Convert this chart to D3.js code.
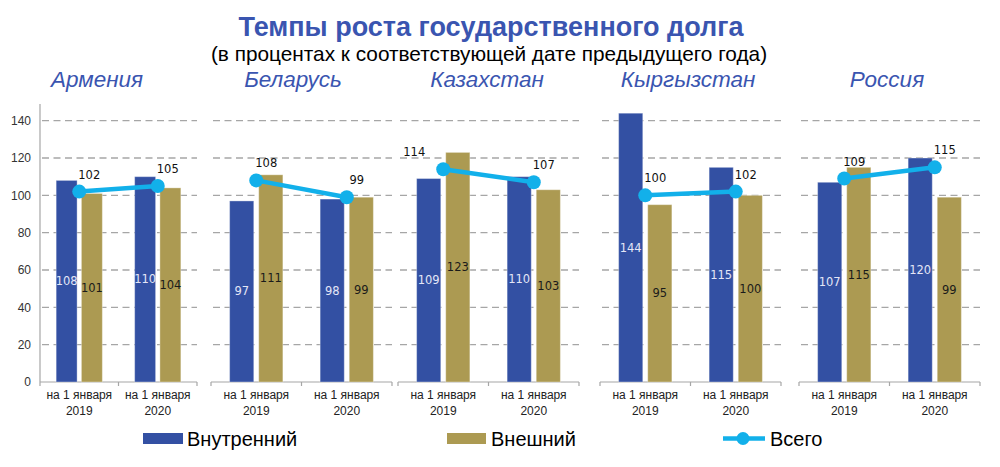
<!DOCTYPE html>
<html>
<head>
<meta charset="utf-8">
<script src="https://cdn.jsdelivr.net/npm/d3@7"></script>
<style>
  html, body { margin: 0; padding: 0; background: #fff; }
  svg { display: block; }
</style>
</head>
<body>
<svg id="chart" width="1000" height="467"></svg>
<script>
// ---------- DATA ----------
const countries = ["Армения", "Беларусь", "Казахстан", "Кыргызстан", "Россия"];
const dateLines = [["на 1 января", "2019"], ["на 1 января", "2020"]];
const dates = ["2019", "2020"];
const domestic = [[108, 110], [97, 98], [109, 110], [144, 115], [107, 120]];
const external = [[101, 104], [111, 99], [123, 103], [95, 100], [115, 99]];
const total    = [[102, 105], [108, 99], [114, 107], [100, 102], [109, 115]];
const yTicks = [0, 20, 40, 60, 80, 100, 120, 140];
const seriesNames = ["Внутренний", "Внешний", "Всего"];

// ---------- LAYOUT / STYLE ----------
const panels = [
  { left: 40,  right: 197, titleX: 97 },
  { left: 211, right: 392, titleX: 293 },
  { left: 398, right: 579, titleX: 487 },
  { left: 600, right: 781, titleX: 688 },
  { left: 799, right: 980, titleX: 887 }
];
const C = { blue: "#3350a3", gold: "#ac9a52", line: "#12b0ea", grid: "#a6a6a6", axis: "#a6a6a6", title: "#3a55b0" };

const svg = d3.select("#chart");
const y = d3.scaleLinear().domain([0, 150]).range([382, 102]);

// Title
svg.append("text").attr("x", 491).attr("y", 36).attr("text-anchor", "middle")
  .attr("font-family", "Liberation Sans, Arial, sans-serif").attr("font-weight", "bold")
  .attr("font-size", 27).attr("fill", C.title).text("Темпы роста государственного долга");
svg.append("text").attr("x", 489).attr("y", 61).attr("text-anchor", "middle")
  .attr("font-family", "Liberation Sans, Arial, sans-serif")
  .attr("font-size", 20.8).attr("fill", "#000").text("(в процентах к соответствующей дате предыдущего года)");

// Y axis (only first panel)
const yAxisG = svg.append("g").attr("transform", `translate(${panels[0].left},0)`)
  .call(d3.axisLeft(y).tickValues(yTicks).tickSize(0).tickPadding(9));
yAxisG.select(".domain").remove();
yAxisG.selectAll("text").attr("font-family", "Liberation Sans, Arial, sans-serif")
  .attr("font-size", 12).attr("fill", "#333");
svg.append("line").attr("x1", panels[0].left).attr("x2", panels[0].left)
  .attr("y1", 104).attr("y2", y(0)).attr("stroke", C.axis).attr("stroke-width", 1.2);

countries.forEach((country, ci) => {
  const p = panels[ci];
  const g = svg.append("g");

  // country title
  g.append("text").attr("x", p.titleX).attr("y", 87).attr("text-anchor", "middle")
    .attr("font-family", "Liberation Sans, Arial, sans-serif").attr("font-style", "italic")
    .attr("font-size", 22.5).attr("fill", C.title).text(country);

  // gridlines
  g.selectAll(".grid").data(yTicks.filter(t => t > 0)).join("line")
    .attr("x1", p.left + 2).attr("x2", p.right)
    .attr("y1", d => y(d)).attr("y2", d => y(d))
    .attr("stroke", C.grid).attr("stroke-width", 1.4).attr("stroke-dasharray", "7,4.5");

  const x0 = d3.scaleBand().domain(dates).range([p.left, p.right]).paddingInner(0).paddingOuter(0);
  const x1 = d3.scaleBand().domain(["dom", "ext"]).range([0, x0.bandwidth()])
    .paddingInner(0.17).paddingOuter(0.64);

  // x axis
  g.append("line").attr("x1", p.left).attr("x2", p.right).attr("y1", y(0)).attr("y2", y(0))
    .attr("stroke", C.axis).attr("stroke-width", 1.2);
  const tickXs = dates.map(d => x0(d)).concat([p.right]);
  g.selectAll(".xt").data(tickXs).join("line")
    .attr("x1", d => d).attr("x2", d => d).attr("y1", y(0)).attr("y2", y(0) + 4)
    .attr("stroke", C.axis).attr("stroke-width", 1.2);

  dates.forEach((d, di) => {
    const cx = x0(d) + x0.bandwidth() / 2;
    const lbl = g.append("text").attr("text-anchor", "middle")
      .attr("font-family", "Liberation Sans, Arial, sans-serif").attr("font-size", 12).attr("fill", "#222");
    lbl.append("tspan").attr("x", cx).attr("y", 399).text(dateLines[di][0]);
    lbl.append("tspan").attr("x", cx).attr("y", 415).text(dateLines[di][1]);

    const bars = [
      { key: "dom", v: domestic[ci][di], fill: C.blue, tc: "#e4e6f7" },
      { key: "ext", v: external[ci][di], fill: C.gold, tc: "#1a1a1a" }
    ];
    bars.forEach(b => {
      const bx = x0(d) + x1(b.key);
      g.append("rect").attr("x", bx).attr("y", y(b.v)).attr("width", x1.bandwidth())
        .attr("height", y(0) - y(b.v)).attr("fill", b.fill)
        .attr("stroke", "#ffffff").attr("stroke-opacity", 0.35).attr("stroke-width", 1);
      g.append("text").attr("x", bx + x1.bandwidth() / 2).attr("y", (y(b.v) + y(0)) / 2 + 4)
        .attr("text-anchor", "middle").attr("font-family", "DejaVu Sans, Verdana, sans-serif")
        .attr("font-size", 11.5).attr("fill", b.tc).text(b.v);
    });
  });

  // total line
  const pts = dates.map((d, di) => ({
    x: x0(d) + x0.bandwidth() / 2, v: total[ci][di], ext: external[ci][di]
  }));
  const lineGen = d3.line().x(d => d.x).y(d => y(d.v));
  g.append("path").datum(pts).attr("d", lineGen).attr("fill", "none")
    .attr("stroke", C.line).attr("stroke-width", 4.5);
  g.selectAll(".pt").data(pts).join("circle")
    .attr("cx", d => d.x).attr("cy", d => y(d.v)).attr("r", 7).attr("fill", C.line);
  g.selectAll(".tl").data(pts).join("text")
    .attr("x", d => d.ext - d.v > 6 ? d.x - 29 : d.x + 10)
    .attr("y", d => y(d.v) - 13)
    .attr("text-anchor", "middle").attr("font-family", "DejaVu Sans, Verdana, sans-serif")
    .attr("font-size", 11.5).attr("fill", "#111").text(d => d.v);
});

// Legend
const lg = svg.append("g").attr("font-family", "Liberation Sans, Arial, sans-serif").attr("font-size", 20).attr("fill", "#000");
lg.append("rect").attr("x", 143).attr("y", 433).attr("width", 40).attr("height", 11).attr("fill", C.blue);
lg.append("text").attr("x", 187).attr("y", 446).text(seriesNames[0]);
lg.append("rect").attr("x", 447).attr("y", 433).attr("width", 39).attr("height", 11).attr("fill", C.gold);
lg.append("text").attr("x", 491).attr("y", 446).text(seriesNames[1]);
lg.append("line").attr("x1", 723).attr("x2", 765).attr("y1", 438.5).attr("y2", 438.5)
  .attr("stroke", C.line).attr("stroke-width", 4.5);
lg.append("circle").attr("cx", 743).attr("cy", 438.5).attr("r", 6.5).attr("fill", C.line);
lg.append("text").attr("x", 770).attr("y", 446).text(seriesNames[2]);
</script>
</body>
</html>
